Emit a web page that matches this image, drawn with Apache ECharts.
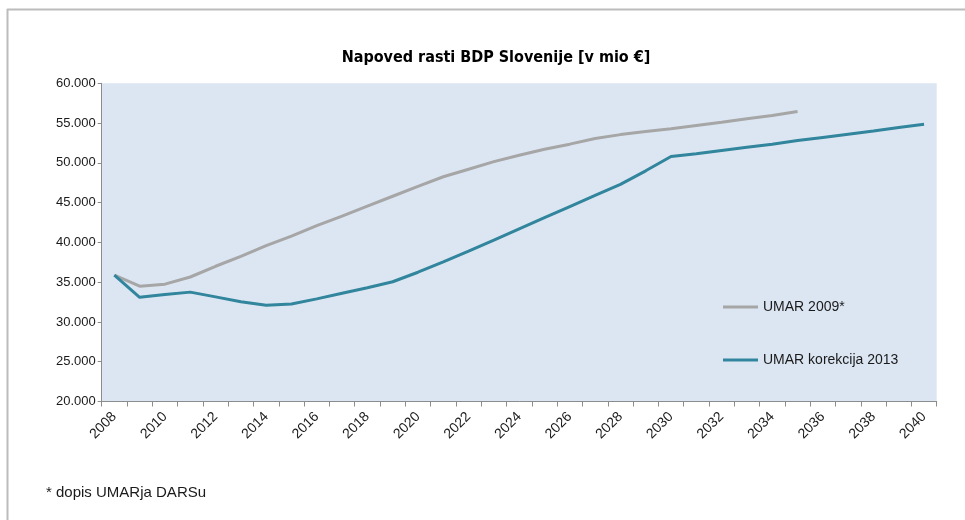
<!DOCTYPE html>
<html lang="sl">
<head>
    <meta charset="utf-8">
    <script src="https://cdn.jsdelivr.net/npm/echarts@6.0.0/dist/echarts.min.js"></script>
    <style>
        html, body { margin: 0; padding: 0; background: #fff; }
        #main { width: 965px; height: 520px; }
    </style>
</head>
<body>
<div id="main"></div>
<script type="text/javascript">
    var years = [];
    for (var y = 2008; y <= 2040; y++) {
        years.push(String(y));
    }

    // UMAR 2009* (to 2035)
    var umar2009 = [35900, 34500, 34750, 35650, 37000, 38250, 39600, 40800, 42100, 43300,
                    44550, 45800, 47050, 48250, 49200, 50150, 50950, 51700, 52350, 53050,
                    53550, 53950, 54300, 54700, 55100, 55550, 55950, 56450,
                    null, null, null, null, null];

    // UMAR korekcija 2013
    var umar2013 = [35900, 33100, 33450, 33750, 33150, 32550, 32100, 32250, 32900, 33600,
                    34300, 35050, 36250, 37550, 38900, 40300, 41700, 43100, 44500, 45900,
                    47300, 49000, 50800, 51150, 51550, 51950, 52350, 52800, 53200, 53600,
                    54000, 54450, 54850];

    var seriesNames = ['UMAR 2009*', 'UMAR korekcija 2013'];
    var titleText = 'Napoved rasti BDP Slovenije [v mio €]';
    var footnote = '* dopis UMARja DARSu';

    var font = '"Liberation Sans", Arial, sans-serif';
    var titleFont = '"DejaVu Sans Condensed", "Liberation Sans", sans-serif';

    function fmt(v) {
        var s = String(v);
        return s.replace(/\B(?=(\d{3})+(?!\d))/g, '.');
    }

    var chart = echarts.init(document.getElementById('main'));

    var option = {
        backgroundColor: '#ffffff',
        animation: false,
        title: {
            text: titleText,
            left: 491,
            top: 45,
            textAlign: 'center',
            textStyle: {
                fontFamily: titleFont,
                fontWeight: 'bold',
                fontSize: 16,
                color: '#000'
            }
        },
        legend: {
            orient: 'vertical',
            left: 718,
            top: 295,
            itemGap: 39,
            itemWidth: 35,
            itemHeight: 3,
            icon: 'rect',
            data: seriesNames,
            textStyle: {
                fontFamily: font,
                fontSize: 14,
                color: '#1a1a1a'
            }
        },
        grid: {
            left: 101.7,
            right: 28.3,
            top: 83.3,
            bottom: 118.5,
            show: true,
            backgroundColor: '#dce6f2',
            borderWidth: 0
        },
        xAxis: {
            type: 'category',
            data: years,
            boundaryGap: true,
            axisLine: { lineStyle: { color: '#8c8c8c', width: 1 } },
            axisTick: { show: true, interval: 0, length: 5, lineStyle: { color: '#8c8c8c' } },
            axisLabel: {
                interval: 1,
                rotate: 45,
                margin: 13,
                fontFamily: font,
                fontSize: 14,
                color: '#1a1a1a'
            },
            splitLine: { show: false }
        },
        yAxis: {
            type: 'value',
            min: 20000,
            max: 60000,
            interval: 5000,
            axisLine: { show: true, lineStyle: { color: '#8c8c8c', width: 1 } },
            axisTick: { show: true, length: 4, lineStyle: { color: '#8c8c8c' } },
            axisLabel: {
                margin: 6,
                fontFamily: font,
                fontSize: 13,
                color: '#1a1a1a',
                formatter: fmt
            },
            splitLine: { show: false }
        },
        graphic: [
            {
                type: 'line',
                shape: { x1: 7, y1: 9.5, x2: 965, y2: 9.5 },
                style: { stroke: '#bcbcbc', lineWidth: 2 }
            },
            {
                type: 'line',
                shape: { x1: 7.5, y1: 9, x2: 7.5, y2: 520 },
                style: { stroke: '#bcbcbc', lineWidth: 2 }
            },
            {
                type: 'text',
                left: 46,
                top: 485,
                style: {
                    text: footnote,
                    font: '15px ' + font,
                    fill: '#1a1a1a'
                }
            }
        ],
        series: [
            {
                name: seriesNames[0],
                type: 'line',
                data: umar2009,
                symbol: 'none',
                connectNulls: false,
                itemStyle: { color: '#a6a6a6' },
                lineStyle: { color: '#a6a6a6', width: 3 }
            },
            {
                name: seriesNames[1],
                type: 'line',
                data: umar2013,
                symbol: 'none',
                itemStyle: { color: '#31859c' },
                lineStyle: { color: '#31859c', width: 3 }
            }
        ]
    };

    chart.setOption(option);
</script>
</body>
</html>
